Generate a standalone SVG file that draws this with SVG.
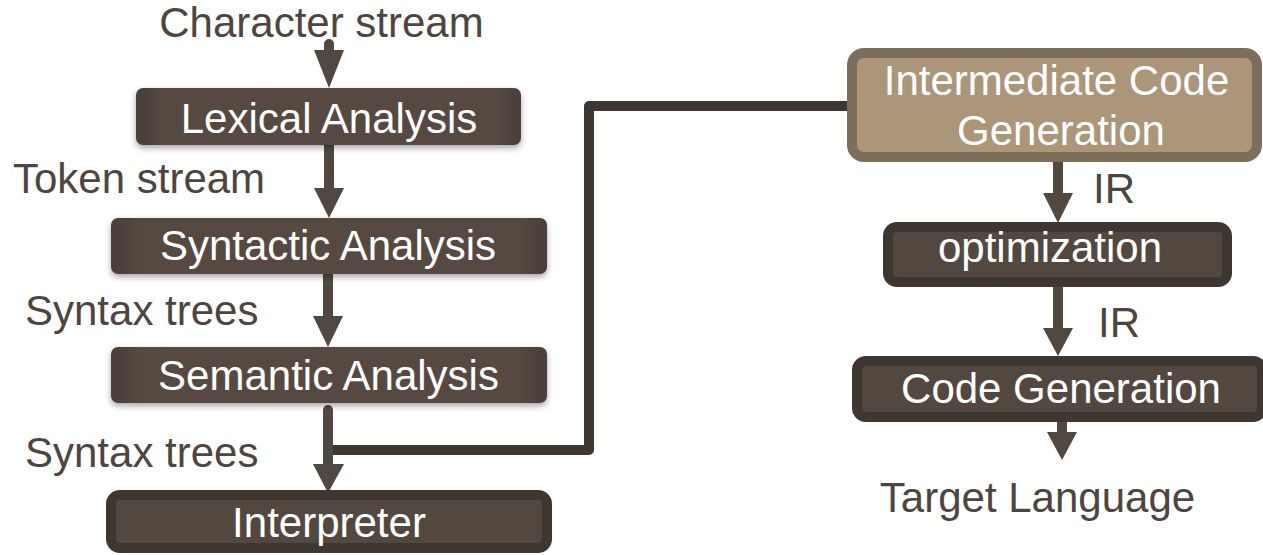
<svg xmlns="http://www.w3.org/2000/svg" width="1263" height="555" viewBox="0 0 1263 555">
<defs>
<linearGradient id="boxg" x1="0" y1="0" x2="1" y2="0">
<stop offset="0" stop-color="#4a3f39"/>
<stop offset="0.08" stop-color="#564a42"/>
<stop offset="0.92" stop-color="#564a42"/>
<stop offset="1" stop-color="#4a3f39"/>
</linearGradient>
<filter id="sh" x="-10%" y="-30%" width="120%" height="170%">
<feDropShadow dx="0" dy="3" stdDeviation="3" flood-color="#000" flood-opacity="0.35"/>
</filter>
<marker id="ah" viewBox="0 0 30 30" refX="15" refY="30" markerWidth="30" markerHeight="30" markerUnits="userSpaceOnUse" orient="auto-start-reverse">
<path d="M0,0 L30,0 L15,30 Z" fill="#524842"/>
</marker>
</defs>
<style>
text{font-family:"Liberation Sans",Arial,sans-serif;font-size:42px}
.lbl{fill:#4e4540}
.bt{fill:#ffffff;text-anchor:middle}
.box{fill:url(#boxg);filter:url(#sh)}
.tb{fill:#534840;stroke:#3d3631;stroke-width:10}
.icg{fill:#ab967a;stroke:#7d6e5c;stroke-width:10}
.arr{stroke:#524842;stroke-width:10;fill:none;stroke-linecap:round}
.ah{fill:#524842}
.conn{stroke:#3d3631;stroke-width:10;fill:none;stroke-linejoin:round}
</style>

<g id="connectors">
<path class="conn" d="M327,450 H589 V106 H852"/>
<line class="arr" x1="329" y1="44" x2="329" y2="55"/>
<path class="ah" d="M314,50 L344,50 L329,88 Z"/>
<line class="arr" x1="329" y1="145" x2="329" y2="192"/>
<path class="ah" d="M314,188 L344,188 L329,218 Z"/>
<line class="arr" x1="328" y1="274" x2="328" y2="320"/>
<path class="ah" d="M313,316 L343,316 L328,347 Z"/>
<line class="arr" x1="328" y1="410" x2="328" y2="468"/>
<path class="ah" d="M313,464 L344,464 L328,493 Z"/>
<line class="arr" x1="1058" y1="157" x2="1058" y2="197"/>
<path class="ah" d="M1043,193 L1073,193 L1058,223 Z"/>
<line class="arr" x1="1058" y1="287" x2="1058" y2="332"/>
<path class="ah" d="M1043,328 L1073,328 L1058,356 Z"/>
<line class="arr" x1="1062" y1="417" x2="1062" y2="436"/>
<path class="ah" d="M1047,432 L1077,432 L1062,460 Z"/>
</g>

<g id="label-character-stream"><text class="lbl" x="321.5" y="37" text-anchor="middle">Character stream</text></g>
<g id="label-token-stream"><text class="lbl" x="13" y="193">Token stream</text></g>
<g id="label-syntax-trees-1"><text class="lbl" x="25" y="325">Syntax trees</text></g>
<g id="label-syntax-trees-2"><text class="lbl" x="25" y="467">Syntax trees</text></g>
<g id="label-ir-1"><text class="lbl" x="1093" y="203">IR</text></g>
<g id="label-ir-2"><text class="lbl" x="1098" y="337">IR</text></g>
<g id="label-target"><text class="lbl" x="1037.5" y="512" text-anchor="middle">Target Language</text></g>

<g id="lexical">
<rect class="box" x="136" y="88" width="385" height="57" rx="7"/>
<text class="bt" x="329" y="133">Lexical Analysis</text>
</g>
<g id="syntactic">
<rect class="box" x="111" y="218" width="436" height="56" rx="7"/>
<text class="bt" x="328" y="260">Syntactic Analysis</text>
</g>
<g id="semantic">
<rect class="box" x="111" y="347" width="436" height="56" rx="7"/>
<text class="bt" x="328.5" y="390">Semantic Analysis</text>
</g>
<g id="interpreter">
<rect class="tb" x="111" y="495" width="436" height="53" rx="9"/>
<text class="bt" x="329" y="537">Interpreter</text>
</g>
<g id="icg">
<rect class="icg" x="852" y="53" width="405" height="104" rx="12"/>
<text class="bt" x="1056.5" y="95">Intermediate Code</text>
<text class="bt" x="1061" y="145">Generation</text>
</g>
<g id="optimization">
<rect class="tb" x="888" y="227" width="339" height="55" rx="9"/>
<text class="bt" x="1050" y="262">optimization</text>
</g>
<g id="codegen">
<rect class="tb" x="857" y="361" width="405" height="56" rx="9"/>
<text class="bt" x="1061" y="403">Code Generation</text>
</g>
</svg>
